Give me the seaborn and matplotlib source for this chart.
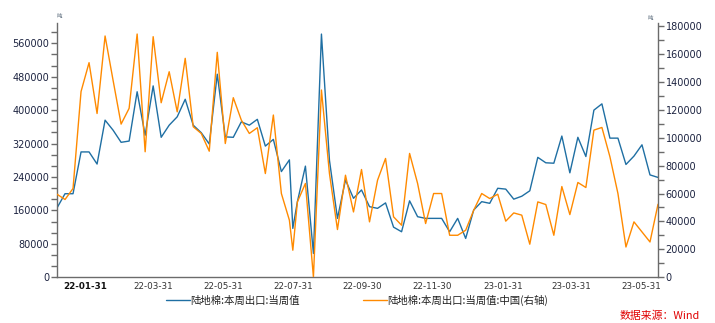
import numpy as np
import pandas as pd
import matplotlib
matplotlib.use("Agg")
import matplotlib.pyplot as plt
import matplotlib.dates as mdates
from matplotlib.ticker import MultipleLocator, FixedLocator
import seaborn as sns

# ---------------- data ----------------
weekly_a = pd.date_range("2022-01-06", "2022-07-28", freq="7D")
extra = pd.to_datetime(["2022-07-31"])
weekly_b = pd.date_range("2022-08-04", "2023-06-15", freq="7D")
dates = weekly_a.append(extra).append(weekly_b)

total_export = [
    166000, 200000, 200000, 300000, 300000, 271000, 376000, 352000, 323000, 326000,
    444000, 340000, 458000, 335000, 364000, 384000, 426000, 364000, 346000, 319000,
    486000, 336000, 335000, 372000, 364000, 378000, 314000, 330000, 253000, 281000,
    117000,
    181000, 266000, 57000, 582000, 280000, 141000, 233000, 189000, 209000, 169000,
    165000, 178000, 120000, 109000, 183000, 145000, 141000, 141000, 141000, 109000,
    141000, 93000, 161000, 181000, 177000, 213000, 211000, 187000, 194000, 207000,
    287000, 274000, 273000, 338000, 250000, 335000, 289000, 400000, 415000, 333000,
    333000, 270000, 290000, 317000, 245000, 239000,
]
china_export = [
    59500, 55700, 63600, 133000, 153700, 117300, 172800, 141000, 109700, 121000,
    174200, 89900, 172300, 125000, 147200, 118500, 156800, 107800, 103000, 90300,
    161100, 95800, 128600, 112600, 103000, 107100, 74300, 116200, 60000, 40900,
    19400,
    54000, 67200, 200, 134100, 74300, 34200, 73100, 46800, 77200, 39700,
    69500, 85100, 43300, 37300, 88700, 67200, 38500, 60000, 60000, 30100,
    30100, 33700, 48000, 60000, 56400, 59500, 40200, 46100, 44500, 23700,
    54000, 52100, 30100, 65000, 44900, 67900, 64300, 105400, 107300, 86300,
    60000, 21700, 39700, 32500, 25300, 52300,
]
series_names = ["陆地棉:本周出口:当周值", "陆地棉:本周出口:当周值:中国(右轴)"]
left_ticks = [0, 80000, 160000, 240000, 320000, 400000, 480000, 560000]
right_ticks = [0, 20000, 40000, 60000, 80000, 100000, 120000, 140000, 160000, 180000]
x_tick_labels = ["22-01-31", "22-03-31", "22-05-31", "22-07-31", "22-09-30",
                 "22-11-30", "23-01-31", "23-03-31", "23-05-31"]

df = pd.DataFrame({"date": dates, "total": total_export, "china": china_export})

# ---------------- style ----------------
sns.set_style("white")
plt.rcParams["font.family"] = ["DejaVu Sans", "Noto Sans CJK SC"]
cjk = ["Noto Sans CJK SC", "DejaVu Sans"]

BLUE = "#1f6fa3"
ORANGE = "#ff8a00"
AXC = "#6b6b6b"
TXT = "#1c2340"

fig = plt.figure(figsize=(7.15, 3.23), dpi=100)
ax = fig.add_axes([57 / 715, 1 - 277.3 / 323, (658 - 57) / 715, (277.3 - 23) / 323])
ax2 = ax.twinx()

sns.lineplot(data=df, x="date", y="total", ax=ax, color=BLUE, lw=1.0, label=series_names[0], legend=False)
sns.lineplot(data=df, x="date", y="china", ax=ax2, color=ORANGE, lw=1.0, label=series_names[1], legend=False)

ax.set_xlim(dates[0], dates[-1])
ax.set_ylim(0, 608500)
ax2.set_ylim(0, 182100)
ax.set_xlabel("")
ax.set_ylabel("")
ax2.set_ylabel("")

# y ticks
ax.yaxis.set_major_locator(FixedLocator(left_ticks))
ax.yaxis.set_minor_locator(MultipleLocator(80000 / 3))
ax2.yaxis.set_major_locator(FixedLocator(right_ticks))
ax2.yaxis.set_minor_locator(MultipleLocator(10000))
ax.set_yticklabels([str(v) for v in left_ticks])
ax2.set_yticklabels([str(v) for v in right_ticks])

# x ticks: month ends
major_dates = pd.to_datetime(["20" + s for s in x_tick_labels])
minor_dates = pd.date_range("2022-02-28", "2023-04-30", freq="ME")
minor_dates = [d for d in minor_dates if d not in set(major_dates)]
ax.xaxis.set_major_locator(FixedLocator(mdates.date2num(major_dates)))
ax.xaxis.set_minor_locator(FixedLocator(mdates.date2num(minor_dates)))
ax.set_xticklabels(x_tick_labels)

for a in (ax, ax2):
    for s in a.spines.values():
        s.set_color(AXC)
        s.set_linewidth(1.0)
    a.spines["top"].set_visible(False)
ax.spines["right"].set_visible(False)
ax2.spines["left"].set_visible(False)
ax2.spines["bottom"].set_visible(False)

ax.tick_params(axis="y", which="major", direction="out", length=4, width=1, color=AXC,
               labelsize=7, labelcolor=TXT, pad=1.5)
ax.tick_params(axis="y", which="minor", direction="out", length=4, width=1, color=AXC)
ax2.tick_params(axis="y", which="major", direction="out", length=4, width=1, color=AXC,
                labelsize=7, labelcolor=TXT, pad=1.5)
ax2.tick_params(axis="y", which="minor", direction="out", length=4, width=1, color=AXC)
ax.tick_params(axis="x", which="both", direction="out", length=3, width=1, color=AXC,
               labelsize=6.3, labelcolor="#333333", pad=0.5)
ax.get_xticklabels()[0].set_fontweight("bold")
ax.get_xticklabels()[0].set_color("#111111")
ax.grid(False)
ax2.grid(False)

# unit markers
fig.text(57 / 715, 1 - 16 / 323, "吨", fontsize=4, color="#556677", family=cjk, ha="left", va="center")
fig.text(650 / 715, 1 - 19 / 323, "吨", fontsize=4, color="#556677", family=cjk, ha="center", va="center")

# legend
h1, l1 = ax.get_legend_handles_labels()
h2, l2 = ax2.get_legend_handles_labels()
leg = fig.legend(h1 + h2, l1 + l2, loc="center", bbox_to_anchor=(357 / 715, 1 - 300 / 323),
                 ncol=2, frameon=False, handlelength=2.3, handletextpad=0.1, columnspacing=6.0,
                 prop={"family": cjk, "size": 7.5})
for t in leg.get_texts():
    t.set_color("#222222")

fig.text(700 / 715, 1 - 316 / 323, "数据来源：Wind", color="#e00000", fontsize=7.8,
         style="italic", family=cjk, ha="right", va="center")

fig.savefig("out.png", dpi=100)
